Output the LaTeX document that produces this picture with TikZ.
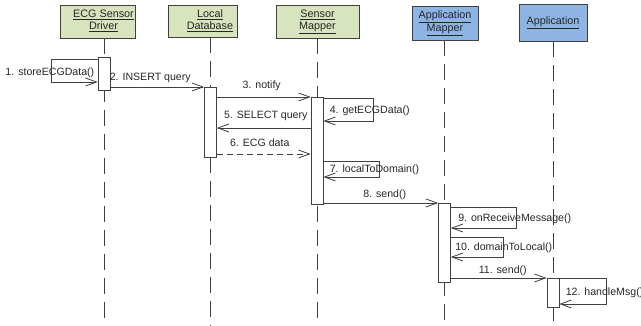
\documentclass[tikz,border=0pt]{standalone}
\usepackage{fontspec}
\setmainfont{Liberation Sans}
\usetikzlibrary{positioning,arrows.meta,backgrounds}
\definecolor{headgreen}{HTML}{D7E4BD}
\definecolor{headblue}{HTML}{8EB4E3}
\newcommand{\headtext}[2]{\begin{tabular}{@{}c@{}}\underline{#1}\\\underline{#2}\end{tabular}}

\begin{document}
\begin{tikzpicture}[
		x=1pt,y=-1pt,
		head/.style={
			draw=black!75,
			line width=0.8pt,
			inner sep=0pt,
			font=\fontsize{10.8}{12}\selectfont,
			text=black!85,
			align=center
		},
		bar/.style={
			draw=black!75,
			fill=white,
			line width=0.7pt,
			minimum width=12pt,
			inner sep=0pt,
			anchor=north
		},
		life/.style={
			draw=black!75,
			line width=0.8pt,
			dash pattern=on 16pt off 8pt
		},
		msg/.style={
			draw=black!75,
			line width=0.8pt,
			->
		},
		lbl/.style={
			font=\fontsize{10.6}{12}\selectfont,
			text=black!85,
			inner sep=1pt
		},
		>={Straight Barb[length=11pt,width=8pt]}
		]
		\useasboundingbox (0,0) rectangle (641,326);
		\node[head,fill=headgreen,minimum width=75pt,minimum height=33pt] (driver) at (97.5,21.5) {\hspace*{12pt}\headtext{ECG Sensor}{Driver}};
		\node[head,fill=headgreen,minimum width=69pt,minimum height=32pt] (db) at (202.5,21) {\hspace*{15pt}\headtext{Local}{Database}};
		\node[head,fill=headgreen,minimum width=83pt,minimum height=33pt] (smap) at (317.5,21.5) {\headtext{Sensor}{Mapper}};
		\node[head,fill=headblue,minimum width=66pt,minimum height=34pt] (amap) at (445,23) {\headtext{Application}{Mapper}};
		\node[head,fill=headblue,minimum width=68pt,minimum height=37pt] (app) at (553,22.5) {\underline{Application}};
		\node[bar,minimum height=33pt] (drvbar) at (104,57) {};
		\node[bar,minimum height=70pt] (dbbar) at (210.5,87) {};
		\node[bar,minimum height=107pt] (smbar) at (317,97) {};
		\node[bar,minimum height=79pt] (ambar) at (444.5,203) {};
		\node[bar,minimum height=29pt] (appbar) at (553,278) {};
		\begin{scope}[on background layer]
			\foreach \h/\b in {driver/drvbar,db/dbbar,smap/smbar,amap/ambar,app/appbar}
				\draw[life] (\h.south -| \b) -- (\b |- 0,326);
		\end{scope}
		\draw[msg] (drvbar.west |- 0,59) -- ++(-46,0) |- (drvbar.west |- 0,82) node[lbl,above left=3pt and 2pt,pos=1] {1. storeECGData()};
		\draw[msg] (drvbar.east |- dbbar.north) -- node[lbl,above=3pt,xshift=-7pt] {2. INSERT query} (dbbar.north west);
		\draw[msg] (dbbar.east |- smbar.north) -- node[lbl,above=5pt,xshift=-2pt] {3. notify} (smbar.north west);
		\draw[msg] (smbar.east |- 0,98) -- ++(50,0) |- (smbar.east |- 0,121) node[lbl,above right=3.5pt and 5pt,pos=1] {4. getECGData()};
		\draw[msg] (smbar.west |- 0,128) -- node[lbl,above=6pt,xshift=2pt] {5. SELECT query} (dbbar.east |- 0,128);
		\draw[msg,dash pattern=on 6pt off 4pt] (dbbar.east |- 0,154) -- node[lbl,above=6pt,xshift=-4pt] {6. ECG data} (smbar.west |- 0,154);
		\draw[msg] (smbar.east |- 0,161) -- ++(56,0) |- (smbar.east |- 0,177) node[lbl,above right=0.5pt and 5pt,pos=1] {7. localToDomain()};
		\draw[msg] (smbar.east |- ambar.north) -- node[lbl,above=1.5pt,xshift=4pt] {8. send()} (ambar.north west);
		\draw[msg] (ambar.east |- 0,207) -- ++(66,0) |- (ambar.east |- 0,228) node[lbl,above right=3pt and 6pt,pos=1] {9. onReceiveMessage()};
		\draw[msg] (ambar.east |- 0,237) -- ++(53,0) |- (ambar.east |- 0,257) node[lbl,above right=3pt and 3pt,pos=1] {10. domainToLocal()};
		\draw[msg] (ambar.east |- appbar.north) -- node[lbl,above=1pt,xshift=4pt] {11. send()} (appbar.north west);
		\draw[msg] (appbar.east |- appbar.north) -- ++(47,0) |- (appbar.east |- 0,304) node[lbl,above right=5pt and 5pt,pos=1] {12. handleMsg()};
\end{tikzpicture}
\end{document}
